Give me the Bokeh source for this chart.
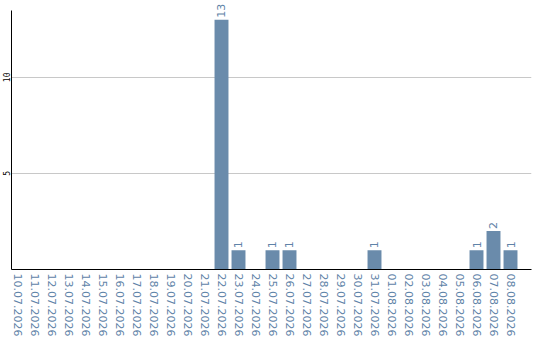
import math
from bokeh.plotting import figure
from bokeh.models import ColumnDataSource, Range1d, FixedTicker, LabelSet
from bokeh.core.properties import value
from bokeh.embed import file_html
from bokeh.resources import INLINE

dates = ["10.07.2026", "11.07.2026", "12.07.2026", "13.07.2026", "14.07.2026",
         "15.07.2026", "16.07.2026", "17.07.2026", "18.07.2026", "19.07.2026",
         "20.07.2026", "21.07.2026", "22.07.2026", "23.07.2026", "24.07.2026",
         "25.07.2026", "26.07.2026", "27.07.2026", "28.07.2026", "29.07.2026",
         "30.07.2026", "31.07.2026", "01.08.2026", "02.08.2026", "03.08.2026",
         "04.08.2026", "05.08.2026", "06.08.2026", "07.08.2026", "08.08.2026"]
counts = [0, 0, 0, 0, 0, 0, 0, 0, 0, 0, 0, 0, 13, 1, 0,
          1, 1, 0, 0, 0, 0, 1, 0, 0, 0, 0, 0, 1, 2, 1]
y_ticks = [5, 10]

BAR = "#6a8bab"
LABEL = "#5f83a8"

pos = list(range(len(dates)))
src = ColumnDataSource(dict(x=pos, y=counts))
lab = ColumnDataSource(dict(
    x=[i for i, c in zip(pos, counts) if c > 0],
    y=[c for c in counts if c > 0],
    t=[str(c) for c in counts if c > 0],
))

# frame reaches the top edge so the tallest value label has room;
# the axis line itself stops a little below that
p = figure(x_range=Range1d(-0.353, 30.235), y_range=Range1d(0, 14.0),
           width=540, height=340, output_backend="svg", toolbar_location=None,
           min_border_left=11, min_border_right=9, min_border_top=0, min_border_bottom=71)
p.outline_line_color = None
p.background_fill_color = "white"

p.vbar(x="x", top="y", width=0.82, source=src, fill_color=BAR, line_color=None)

# value labels above the bars, rotated to read upwards
labels = LabelSet(x="x", y="y", text="t", source=lab, angle=math.pi / 2, y_offset=2,
                  text_align="left", text_baseline="middle", text_color=value(LABEL),
                  text_font_size=value("11px"), text_font=value("DejaVu Sans"))
p.add_layout(labels)

p.xgrid.grid_line_color = None
p.ygrid.ticker = FixedTicker(ticks=y_ticks)
p.ygrid.grid_line_color = "#c8c8c8"

p.yaxis.ticker = FixedTicker(ticks=y_ticks)
p.yaxis.bounds = (0, 13.5)
p.yaxis.major_label_orientation = "vertical"
p.yaxis.major_label_text_font_size = "8px"
p.yaxis.major_label_text_font = "DejaVu Sans Mono"
p.yaxis.major_label_text_color = "black"
p.yaxis.major_tick_line_color = None
p.yaxis.minor_tick_line_color = None
p.yaxis.major_tick_out = 0
p.yaxis.minor_tick_out = 0
p.yaxis.major_label_standoff = 1
p.yaxis.axis_line_color = "black"

p.xaxis.ticker = FixedTicker(ticks=pos, minor_ticks=[])
p.xaxis.major_label_overrides = {i: d for i, d in zip(pos, dates)}
p.xaxis.major_label_orientation = "vertical"
p.xaxis.major_label_text_font_size = "11px"
p.xaxis.major_label_text_font = "DejaVu Sans"
p.xaxis.major_label_text_color = LABEL
p.xaxis.major_tick_line_color = None
p.xaxis.minor_tick_line_color = None
p.xaxis.major_tick_out = 0
p.xaxis.minor_tick_out = 0
p.xaxis.major_label_standoff = 4
p.xaxis.axis_line_color = "black"

open("out.html", "w").write(file_html(p, INLINE))
